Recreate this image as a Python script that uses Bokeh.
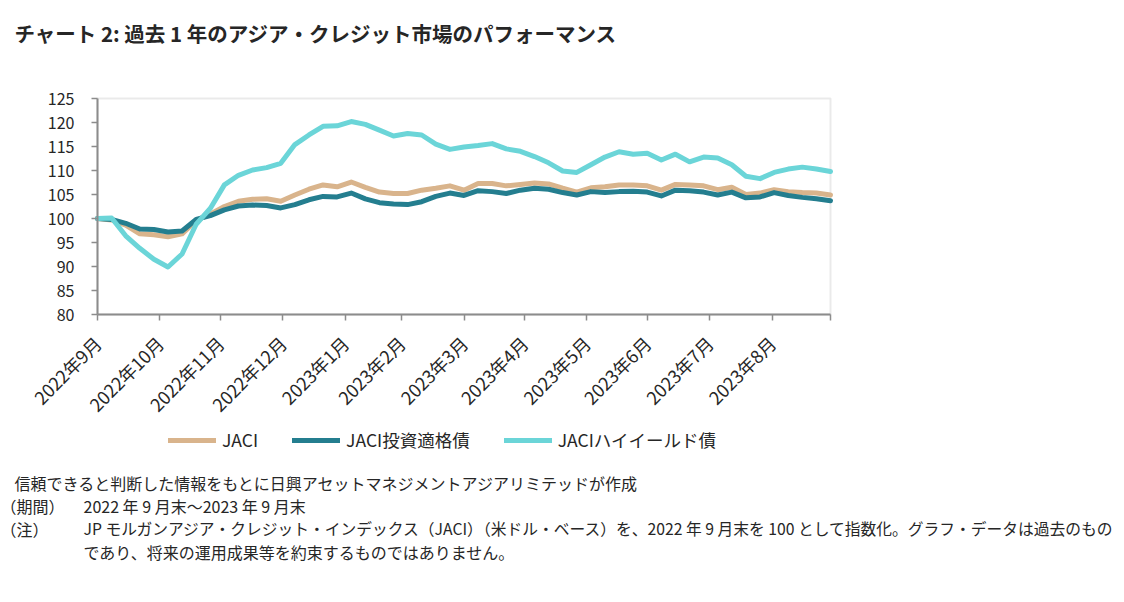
import math
import pandas as pd
from bokeh.plotting import figure
from bokeh.models import (Legend, LegendItem, FixedTicker, Range1d, Label, BoxAnnotation)
from bokeh.embed import file_html
from bokeh.resources import INLINE

# ---------------- data (weekly readings, index 2022/9末 = 100) ----------------
start_date = "2022-09-30"
n_weeks = 53
jaci = [100.0, 99.7, 98.6, 96.8, 96.6, 96.2, 96.8, 99.6, 100.9, 102.5,
        103.6, 104.0, 104.1, 103.6, 104.9, 106.1, 107.0, 106.6, 107.6, 106.5,
        105.5, 105.2, 105.2, 105.9, 106.3, 106.8, 105.9, 107.3, 107.3, 106.8,
        107.1, 107.4, 107.2, 106.3, 105.5, 106.4, 106.6, 107.0, 107.0, 106.8,
        105.9, 107.1, 107.0, 106.8, 106.0, 106.5, 105.0, 105.3, 106.0, 105.6,
        105.4, 105.3, 104.9]
jaci_ig = [100.0, 99.8, 99.0, 97.8, 97.7, 97.2, 97.4, 99.8, 100.6, 101.8,
           102.6, 102.8, 102.7, 102.2, 102.9, 103.9, 104.6, 104.5, 105.3, 104.1,
           103.3, 103.0, 102.9, 103.5, 104.6, 105.3, 104.8, 105.8, 105.6, 105.2,
           105.9, 106.3, 106.1, 105.4, 104.9, 105.6, 105.4, 105.6, 105.7, 105.5,
           104.7, 105.9, 105.8, 105.5, 104.9, 105.5, 104.3, 104.5, 105.4, 104.8,
           104.4, 104.1, 103.7]
jaci_hy = [100.0, 100.1, 96.4, 93.8, 91.5, 89.9, 92.6, 98.8, 102.1, 107.0,
           109.0, 110.1, 110.6, 111.5, 115.4, 117.4, 119.2, 119.3, 120.2, 119.6,
           118.4, 117.2, 117.7, 117.4, 115.5, 114.4, 114.9, 115.2, 115.6, 114.5,
           114.0, 112.9, 111.6, 109.9, 109.6, 111.2, 112.8, 113.9, 113.4, 113.6,
           112.2, 113.4, 111.8, 112.8, 112.6, 111.2, 108.8, 108.3, 109.6, 110.3,
           110.7, 110.3, 109.8]

tick_dates = ["2022-09-30", "2022-10-31", "2022-11-30", "2022-12-31", "2023-01-31",
              "2023-02-28", "2023-03-31", "2023-04-30", "2023-05-31", "2023-06-30",
              "2023-07-31", "2023-08-31", "2023-09-29"]
tick_labels = ["2022年9月", "2022年10月", "2022年11月", "2022年12月", "2023年1月",
               "2023年2月", "2023年3月", "2023年4月", "2023年5月", "2023年6月",
               "2023年7月", "2023年8月", ""]
y_ticks = [80, 85, 90, 95, 100, 105, 110, 115, 120, 125]

series_names = ["JACI", "JACI投資適格債", "JACIハイイールド債"]
series_colors = ["#D9B48C", "#247E8F", "#6BD5D8"]

title_text = "チャート 2: 過去 1 年のアジア・クレジット市場のパフォーマンス"
notes = [
    ("信頼できると判断した情報をもとに日興アセットマネジメントアジアリミテッドが作成", None),
    ("（期間）", "2022 年 9 月末～2023 年 9 月末"),
    ("（注）", "JP モルガンアジア・クレジット・インデックス（JACI）（米ドル・ベース）を、2022 年 9 月末を 100 として指数化。グラフ・データは過去のもの"),
    ("", "であり、将来の運用成果等を約束するものではありません。"),
]

# ---------------- geometry (page pixels) ----------------
FONT = "Noto Sans CJK JP"
TXT = "#262626"
W, H = 1120, 600
FRAME_L, FRAME_R, FRAME_T, FRAME_B = 97, 830, 98, 314

t0 = pd.Timestamp(start_date)
dates = pd.date_range(start_date, periods=n_weeks, freq="7D")
x_days = [(d - t0).days for d in dates]
tick_days = [(pd.Timestamp(d) - t0).days for d in tick_dates]

x0, x1 = tick_days[0], tick_days[-1]
y0, y1 = y_ticks[0], y_ticks[-1]
sx = (FRAME_R - FRAME_L) / (x1 - x0)
sy = (FRAME_B - FRAME_T) / (y1 - y0)

# the canvas is one big frame; the chart area is placed through the ranges
p = figure(frame_width=W, frame_height=H, output_backend="svg", toolbar_location=None,
           min_border=0,
           x_range=Range1d(x0 - FRAME_L / sx, x1 + (W - FRAME_R) / sx),
           y_range=Range1d(y0 - (H - FRAME_B) / sy, y1 + FRAME_T / sy))
p.title = None
p.xgrid.visible = False
p.ygrid.visible = False
p.outline_line_color = None

p.add_layout(BoxAnnotation(left=x0, right=x1, bottom=y0, top=y1, fill_alpha=0,
                           line_color="#B8B8B8", line_width=2, level="underlay"))

renderers = []
for vals, col in zip([jaci, jaci_ig, jaci_hy], series_colors):
    renderers.append(p.line(x_days, vals, line_color=col, line_width=5,
                            line_join="round", line_cap="round"))

for ax in (p.xaxis[0], p.yaxis[0]):
    ax.axis_line_color = "#8C8C8C"
    ax.axis_line_width = 2
    ax.major_tick_line_color = "#8C8C8C"
    ax.major_tick_line_width = 1.5
    ax.minor_tick_line_color = None
    ax.major_label_text_font = FONT
    ax.major_label_text_color = TXT
    ax.major_tick_out = 6
    ax.major_tick_in = 0

p.yaxis.fixed_location = x0
p.yaxis.bounds = (y0, y1)
p.yaxis.ticker = FixedTicker(ticks=y_ticks)
p.yaxis.major_label_standoff = 17
p.yaxis.major_label_text_font_size = "16px"

p.xaxis.fixed_location = y0
p.xaxis.bounds = (x0, x1)
p.xaxis.ticker = FixedTicker(ticks=tick_days)
p.xaxis.major_label_overrides = {t: l for t, l in zip(tick_days, tick_labels)}
p.xaxis.major_label_orientation = math.pi / 4
p.xaxis.major_label_standoff = 19
p.xaxis.major_label_text_font_size = "18px"


def put(text, px, py, size, bold=False):
    p.add_layout(Label(x=px, y=H - py, x_units="screen", y_units="screen", text=text,
                       text_font=FONT, text_font_size=size,
                       text_font_style="bold" if bold else "normal",
                       text_color=TXT, text_baseline="middle"))


put(title_text, 14, 32, "20.5px", bold=True)

legend = Legend(items=[LegendItem(label=n, renderers=[r]) for n, r in zip(series_names, renderers)],
                orientation="horizontal", location=(168, H - 452),
                glyph_width=48, glyph_height=20, label_standoff=6, spacing=34,
                padding=0, margin=0, border_line_alpha=0, background_fill_alpha=0,
                label_text_font=FONT, label_text_font_size="17.5px", label_text_color=TXT)
p.add_layout(legend, "center")

note_y = [482, 505, 528, 551]
note_size = ["16px", "16px", "15.75px", "16px"]
for (a, b), py, fs in zip(notes, note_y, note_size):
    if a:
        put(a, 14 if b is None else 0, py, "16px")
    if b:
        put(b, 83, py, fs)

open("out.html", "w").write(file_html(p, INLINE))
